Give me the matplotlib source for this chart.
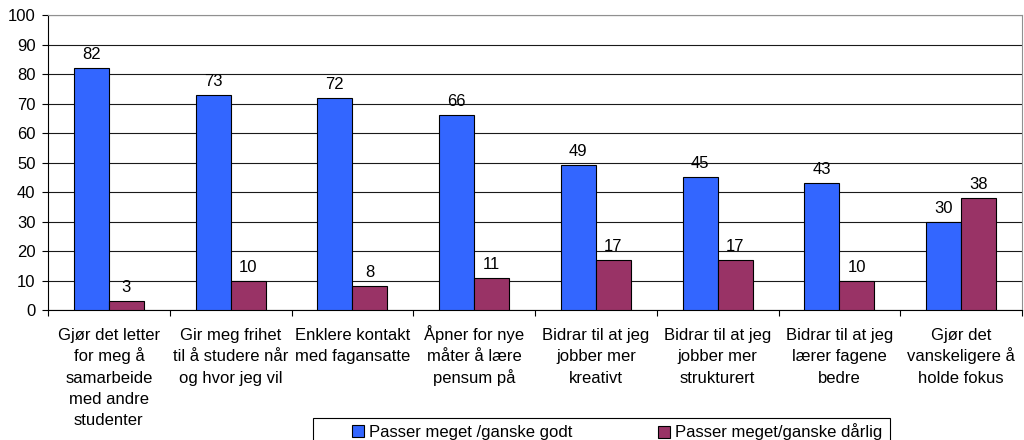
import matplotlib
matplotlib.use("Agg")
import matplotlib.pyplot as plt
from matplotlib.patches import Rectangle
import numpy as np

categories = [
    "Gjør det letter\nfor meg å\nsamarbeide\nmed andre\nstudenter",
    "Gir meg frihet\ntil å studere når\nog hvor jeg vil",
    "Enklere kontakt\nmed fagansatte",
    "Åpner for nye\nmåter å lære\npensum på",
    "Bidrar til at jeg\njobber mer\nkreativt",
    "Bidrar til at jeg\njobber mer\nstrukturert",
    "Bidrar til at jeg\nlærer fagene\nbedre",
    "Gjør det\nvanskeligere å\nholde fokus",
]
series_names = ["Passer meget /ganske godt", "Passer meget/ganske dårlig"]
good = [82, 73, 72, 66, 49, 45, 43, 30]
bad = [3, 10, 8, 11, 17, 17, 10, 38]
yticks = list(range(0, 101, 10))

plt.rcParams['font.family'] = ['Liberation Sans', 'DejaVu Sans']
FS = 12

W, H = 1024, 440
PX = 72 / 100  # points per pixel
fig = plt.figure(figsize=(W/100, H/100), dpi=100)
ax = fig.add_axes([48/W, 1 - 310/H, (1022 - 48)/W, (310 - 15)/H])

x = np.arange(len(categories))
w = 0.2875
b1 = ax.bar(x - w/2, good, w, color='#3366FF', edgecolor='black', linewidth=0.8, label=series_names[0], zorder=3)
b2 = ax.bar(x + w/2, bad, w, color='#993366', edgecolor='black', linewidth=0.8, label=series_names[1], zorder=3)

for bars, vals in ((b1, good), (b2, bad)):
    for r, v in zip(bars, vals):
        ax.annotate(str(v), (r.get_x() + r.get_width()/2, r.get_height()),
                    xytext=(0, 9 * PX), textcoords='offset points',
                    ha='center', va='baseline', fontsize=FS)

ax.set_xlim(-0.5, len(categories) - 0.5)
ax.set_ylim(0, 100)
ax.set_yticks(yticks)
ax.tick_params(axis='y', labelsize=FS, length=4, width=0.8, pad=5, direction='out')
ax.set_xticks(np.arange(-0.5, len(categories), 1))
ax.set_xticklabels([])
ax.tick_params(axis='x', length=4, width=0.8, direction='out')

for i, lab in enumerate(categories):
    for k, line in enumerate(lab.split("\n")):
        ax.annotate(line, (i, 0), xycoords=ax.get_xaxis_transform(),
                    xytext=(0, -(30 + 21.25 * k) * PX), textcoords='offset points',
                    ha='center', va='baseline', fontsize=FS, annotation_clip=False)

ax.yaxis.grid(True, color='#1a1a1a', linewidth=0.8, zorder=0)
ax.set_axisbelow(True)
for s in ('top', 'right'):
    ax.spines[s].set_color('#909090')
    ax.spines[s].set_linewidth(0.8)
for s in ('left', 'bottom'):
    ax.spines[s].set_color('black')
    ax.spines[s].set_linewidth(0.8)

# legend frame
fig.add_artist(Rectangle((313/W, 1 - 446/H), (890 - 313)/W, (446 - 418)/H,
                         transform=fig.transFigure, facecolor='white',
                         edgecolor='black', linewidth=0.8))
for handle, name, xpx in ((b1, series_names[0], 352), (b2, series_names[1], 658)):
    fig.legend(handles=[handle], labels=[name], loc='center left',
               bbox_to_anchor=(xpx/W, 1 - 432/H), fontsize=FS, frameon=False,
               handlelength=0.72, handleheight=0.72, handletextpad=0.3,
               borderpad=0, borderaxespad=0)

fig.savefig('out.png', dpi=100)
